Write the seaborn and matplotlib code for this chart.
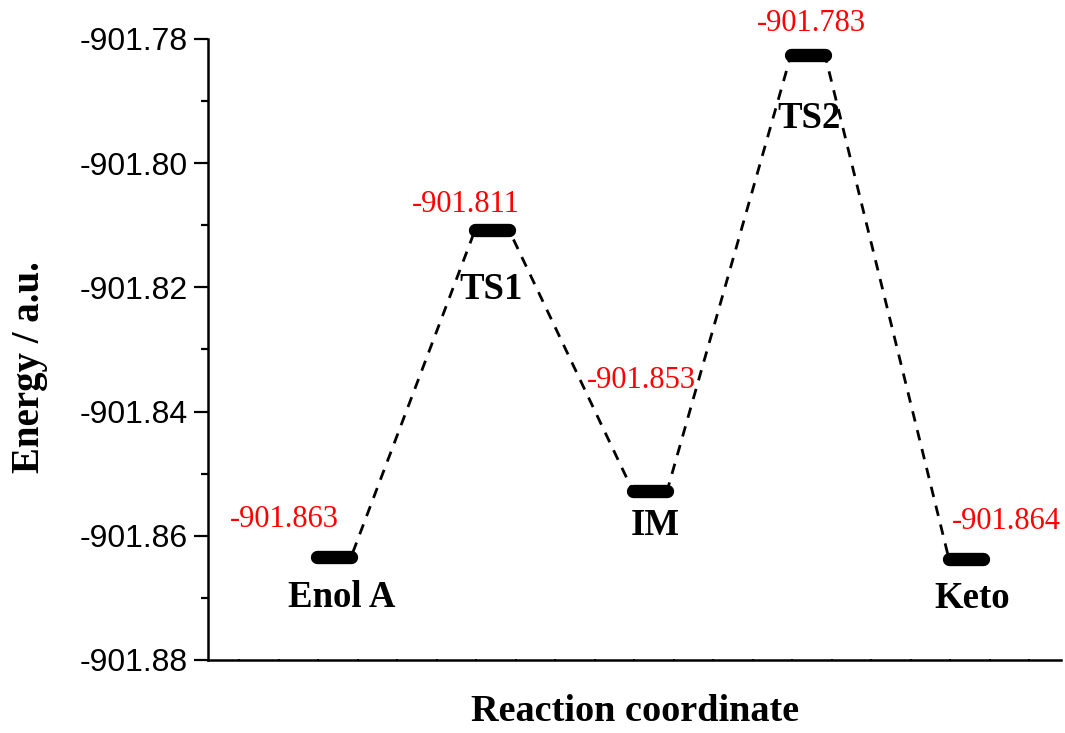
import matplotlib
matplotlib.use("Agg")
import matplotlib.pyplot as plt
from matplotlib.ticker import MultipleLocator, FixedLocator, FormatStrFormatter
import numpy as np
import pandas as pd
import seaborn as sns

# energy levels along the reaction path (a.u.)
states = ["Enol A", "TS1", "IM", "TS2", "Keto"]
energies = [-901.8634, -901.8108, -901.8528, -901.7826, -901.8637]
positions = [1, 2, 3, 4, 5]
y_ticks = [-901.88, -901.86, -901.84, -901.82, -901.80, -901.78]

HALF = 0.108  # half length of a level bar, x units
# text offsets in pixels (dx, dy) from the level centre
value_offsets = [(-50, 37), (-26, 26), (-9, 111), (3, 32), (40, 37)]
name_offsets = [(8, -41), (-1, -59), (5, -34), (1, -63), (6, -40)]

sns.set_theme(style="ticks", rc={"text.color": "black", "axes.labelcolor": "black",
                                 "xtick.color": "black", "ytick.color": "black"})
plt.rcParams["font.family"] = ["Liberation Serif", "DejaVu Serif"]
plt.rcParams["axes.unicode_minus"] = False

# path: left end -> right end of every level, in order
path = pd.DataFrame({
    "x": [p + s * HALF for p in positions for s in (-1, 1)],
    "y": [e for e in energies for _ in (0, 1)],
    "state": [n for n in states for _ in (0, 1)],
})

fig = plt.figure(figsize=(10.65, 7.33), dpi=100)
ax = fig.add_axes([0.195, 0.0996, 0.801, 0.8472])

sns.lineplot(data=path, x="x", y="y", sort=False, estimator=None,
             color="black", lw=2.0, linestyle=(0, (3.8, 3.2)), ax=ax)
sns.lineplot(data=path, x="x", y="y", units="state", estimator=None,
             color="black", lw=9.6, solid_capstyle="round", ax=ax)

for p, e, name, vo, no in zip(positions, energies, states, value_offsets, name_offsets):
    ax.annotate(f"{e:.3f}", (p, e), xytext=vo, textcoords="offset pixels",
                ha="center", va="center", color="red", fontsize=22,
                annotation_clip=False)
    ax.annotate(name, (p, e), xytext=no, textcoords="offset pixels",
                ha="center", va="center", color="black", fontsize=26.5,
                fontweight="bold", annotation_clip=False)

ax.set_xlim(0.2, 5.6)
ax.set_ylim(-901.88, -901.78)
ax.yaxis.set_major_locator(FixedLocator(y_ticks))
ax.yaxis.set_major_formatter(FormatStrFormatter("%.2f"))
ax.yaxis.set_minor_locator(MultipleLocator(0.01))
ax.xaxis.set_major_locator(FixedLocator([]))
ax.xaxis.set_minor_locator(FixedLocator(np.arange(0.4, 5.41, 0.25)))

ax.tick_params(axis="y", which="major", direction="out", length=10, width=1.6,
               pad=4, labelsize=23, color="black", labelcolor="black")
ax.tick_params(axis="y", which="minor", direction="out", length=5, width=1.6, color="black")
ax.tick_params(axis="x", which="minor", direction="inout", length=2, width=1.4, color="black")
for lab in ax.get_yticklabels():
    lab.set_family(["Liberation Sans", "DejaVu Sans"])

for side in ("top", "right"):
    ax.spines[side].set_visible(False)
for side in ("left", "bottom"):
    ax.spines[side].set_linewidth(1.8)
    ax.spines[side].set_color("black")

ax.set_xlabel("Reaction coordinate", fontsize=27.5, fontweight="bold", va="center", color="black")
ax.set_ylabel("Energy / a.u.", fontsize=28, fontweight="bold", va="center", color="black")
ax.xaxis.set_label_coords(0.5006, -0.0837)
ax.yaxis.set_label_coords(-0.2087, 0.472)

fig.savefig("out.png", dpi=100)
